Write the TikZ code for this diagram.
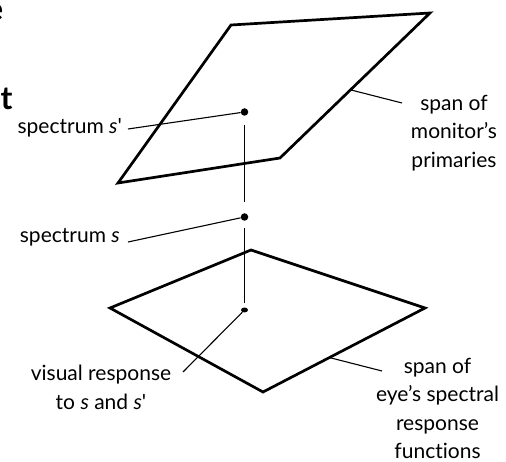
\documentclass[tikz,border=0pt]{standalone}
\usepackage{fontspec}
\setmainfont{Lato}[Ligatures=NoCommon]
\usetikzlibrary{calc,shapes.geometric}
\begin{document}
\begin{tikzpicture}[x=1pt,y=-1pt,
  plane/.style={line width=2.7pt, line join=miter},
  leader/.style={line width=1.1pt},
  stem/.style={line width=1.4pt},
  dotnode/.style={circle, fill, inner sep=0pt, minimum size=7.5pt},
  lbl/.style={font=\fontsize{21}{28.5}\selectfont, inner sep=0pt, align=center},
  big/.style={font=\fontsize{32}{40}\selectfont\bfseries, inner sep=0pt}]
\useasboundingbox (0,0) rectangle (506,462);
% cut-off letters
\node[big, anchor=base east] (le) at (3.5,21) {e};
\node[big, anchor=base west] (lt) at (0.5,110) {t};
% upper plane
\coordinate (UTL) at (231,25);
\coordinate (UTR) at (430,13);
\coordinate (UBR) at (280,158);
\coordinate (UBL) at (118,183);
\draw[plane] (UTL) -- (UTR) -- (UBR) -- (UBL) -- cycle;
% lower plane
\coordinate (LT) at (251,250);
\coordinate (LR) at (425,308);
\coordinate (LB) at (263,392);
\coordinate (LL) at (110,308);
\draw[plane] (LT) -- (LR) -- (LB) -- (LL) -- cycle;
% dots
\node[dotnode] (dsp) at (244.5,112) {};
\node[dotnode] (ds) at (244.5,217) {};
\node[fill, ellipse, inner sep=0pt, minimum width=7pt, minimum height=5pt] (dr) at (244.5,310) {};
% stem
\draw[stem] ([yshift=-13pt]dsp.center) -- ([yshift=15pt]ds.center);
\draw[stem] ([yshift=-11pt]ds.center) -- ([yshift=7pt]dr.center);
% labels
\node[lbl, anchor=base east] (tsp) at (122,134) {spectrum \textit{s}\textquotesingle};
\node[lbl, anchor=base east] (ts) at (120,243) {spectrum \textit{s}};
\node[lbl, anchor=north] (tvr) at (101,365) {visual response\\to \textit{s} and \textit{s}\textquotesingle};
\node[lbl, anchor=north] (tmon) at (454,95) {span of\\monitor's\\primaries};
\node[lbl, anchor=north] (teye) at (437.5,358) {span of\\eye's spectral\\response\\functions};
% leader ends next to the labels
\coordinate (lsp) at (128,129);
\coordinate (ls) at (128,242);
\coordinate (lvr) at (183,372);
\coordinate (lmon) at (402,103);
\coordinate (leye) at (382,371);
\coordinate (emon) at ($(UTR)!0.53!(UBR)$);
\coordinate (eeye) at ($(LR)!0.59!(LB)$);
% leaders
\draw[leader] (lsp) -- (dsp);
\draw[leader] (ls) -- (ds);
\draw[leader] (lvr) -- (dr);
\draw[leader] (emon) -- (lmon);
\draw[leader] (eeye) -- (leye);
\end{tikzpicture}
\end{document}
